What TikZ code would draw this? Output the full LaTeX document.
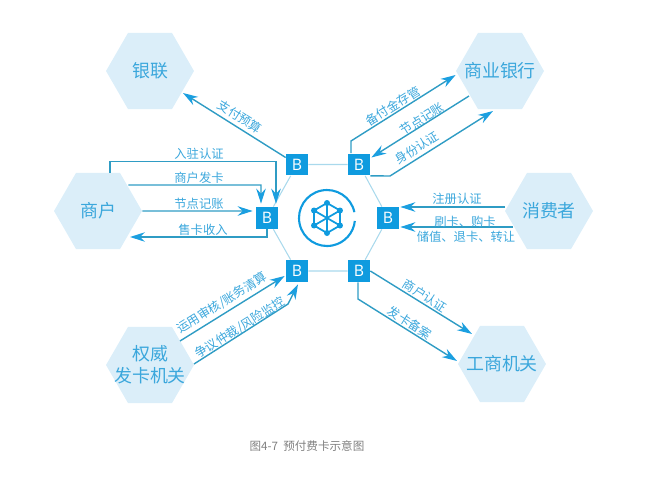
\documentclass[tikz,border=0pt]{standalone}
\usepackage{fontspec}
\setmainfont{Noto Sans CJK SC}
\newfontfamily\latinfont{Open Sans}
\usetikzlibrary{positioning, calc, shapes.geometric, arrows.meta}
\definecolor{hexfill}{HTML}{DBEEF9}
\definecolor{boxfill}{HTML}{0F9BDF}
\definecolor{flowline}{HTML}{2F9CC4}
\definecolor{flowtip}{HTML}{1B9FE0}
\definecolor{ringline}{HTML}{A9D9EC}
\definecolor{labeltext}{HTML}{3BA7DC}
\tikzset{
	party/.style={regular polygon, regular polygon sides=6, fill=hexfill, text=labeltext, inner sep=-10pt, minimum size=1.76cm, font=\fontsize{10.2}{12.4}\selectfont, align=center},
	chainbox/.style={fill=boxfill, text=white, inner sep=0pt, minimum size=0.44cm, font=\latinfont\fontsize{9}{10}\selectfont},
	ring/.style={draw=ringline, line width=0.6pt},
	flow/.style={draw=flowline, line width=0.8pt, -{Stealth[length=8.5pt, width=5.4pt, color=flowtip]}},
	note/.style={text=labeltext, inner sep=0pt, font=\fontsize{7}{8}\selectfont},
	iconline/.style={draw=boxfill, line width=1pt}
}
\begin{document}
\begin{tikzpicture}[x=0.02cm, y=-0.02cm]
	\useasboundingbox (0, 0) rectangle (658, 500);

	\node[party] (union)    at (150, 71)  {银联};
	\node[party] (merchant) at (98, 211)  {商户};
	\node[party] (bank)     at (500, 71)  {商业银行};
	\node[party] (consumer) at (549, 211) {消费者};
	\node[party] (issuer)   at (150, 365) {权威\\发卡机关};
	\node[party] (bureau)   at (502, 364) {工商机关};

	\node[chainbox] (bnw) at (297, 164.5) {B};
	\node[chainbox] (bne) at (359, 164.5) {B};
	\node[chainbox] (bw)  at (267, 218)   {B};
	\node[chainbox] (be)  at (388, 218)   {B};
	\node[chainbox] (bsw) at (297, 271)   {B};
	\node[chainbox] (bse) at (359, 271)   {B};

	\draw[ring] (bnw) -- (bne) -- (be) -- (bse) -- (bsw) -- (bw) -- (bnw);

	% middle icon
	\coordinate (icon) at (327, 218);
	\draw[boxfill, line width=1.2pt] ($(icon)+(-12:28)$) arc[start angle=-12, end angle=-354, radius=28];
	\draw[iconline] ($(icon)+(90:15)$) -- ($(icon)+(30:15)$) -- ($(icon)+(-30:15)$) -- ($(icon)+(-90:15)$) -- ($(icon)+(-150:15)$) -- ($(icon)+(150:15)$) -- cycle;
	\foreach \a in {30, 90, ..., 330} {
		\draw[iconline] (icon) -- ($(icon)+(\a:15)$);
		\fill[boxfill] ($(icon)+(\a:15)$) circle[radius=3];
	}

	% merchant side
	\coordinate (enterbend) at (276, 161.5);
	\coordinate (cardbend) at (261, 185);
	\coordinate (incomebend) at (267, 237);
	\draw[flow] ($(bnw.west)+(0, -7)$) -- ($(union)+(33, 22)$);
	\draw[flow] ($(merchant.north)+(12, 0)$) |- (enterbend) -- ($(bw.north)+(9, -3)$);
	\draw[flow] ($(merchant.east)+(-14, -26)$) -- (cardbend) -- ($(bw.north)+(-6, -3)$);
	\draw[flow] (merchant.east) -- ($(bw.west)+(-3, -7)$);
	\draw[flow] (bw.south) -- (incomebend) -- ($(merchant)+(32, 26)$);

	% bank side
	\coordinate (reservebend) at (351, 141);
	\coordinate (identitybend) at (390, 176);
	\draw[flow] ($(bne.north)+(-8, 0)$) -- (reservebend) -- ($(bank.west)+(0, 4)$);
	\draw[flow] ($(bank)+(-31, 25)$) -- ($(bne.east)+(1, -7)$);
	\draw[flow] (bne.south east) -- (identitybend) -- ($(bank)+(-7, 40)$);

	% consumer side
	\draw[flow] ($(consumer)+(-44, -4)$) -- ($(be.east)+(1, -11)$);
	\draw[flow] ($(consumer)+(-36, 16)$) -- ($(be.east)+(1, 9)$);

	% issuer side
	\coordinate (disputebend) at (288, 304);
	\draw[flow] ($(issuer)+(30, -24)$) -- ($(bsw.west)+(-1, 5)$);
	\draw[flow] ($(issuer)+(44, -1)$) -- (disputebend) -- ($(bsw.south)+(1, 2)$);

	% bureau side
	\coordinate (filingbend) at (358, 299);
	\draw[flow] (bse.east) -- ($(bureau)+(-30, -30)$);
	\draw[flow] ($(bse.south)+(-1, 0)$) -- (filingbend) -- ($(bureau)+(-45, -3)$);

	\node[note, rotate=-32] (paynote) at (240, 117) {支付预算};
	\node[note] (enternote)  at (199, 154) {入驻认证};
	\node[note] (cardnote)   at (199, 178) {商户发卡};
	\node[note] (booknote)   at (199, 204) {节点记账};
	\node[note] (incomenote) at (203, 230) {售卡收入};
	\node[note, rotate=32] (reservenote)  at (393, 106) {备付金存管};
	\node[note, rotate=32] (banknote)     at (422, 119) {节点记账};
	\node[note, rotate=32] (identitynote) at (417, 148) {身份认证};
	\node[note] (registernote) at (457, 199) {注册认证};
	\node[note] (swipenote)    at (465, 222) {刷卡、购卡};
	\node[note] (topupnote)    at (466, 237) {储值、退卡、转让};
	\node[note, rotate=32] (auditnote)   at (222, 303) {运用审核/账务清算};
	\node[note, rotate=32] (disputenote) at (240, 328) {争议仲裁/风险监控};
	\node[note, rotate=-32] (checknote)  at (425, 296) {商户认证};
	\node[note, rotate=-32] (filingnote) at (410, 323) {发卡备案};

	\node[text=gray, inner sep=0pt, font=\fontsize{6.6}{8}\selectfont] (caption) at (307, 446) {图4-7\ \ 预付费卡示意图};
\end{tikzpicture}
\end{document}
